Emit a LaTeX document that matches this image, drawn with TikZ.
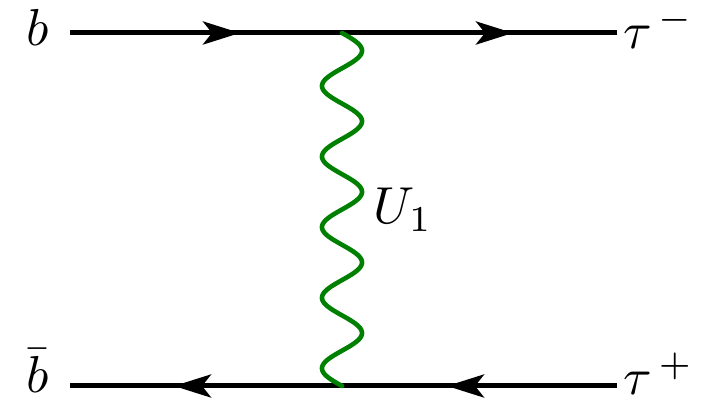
\documentclass[tikz,border=0pt]{standalone}
\usetikzlibrary{arrows.meta,decorations.markings}
\begin{document}
\begin{tikzpicture}[x=1pt,y=1pt,
  fermion/.style={line width=5pt,
    postaction={decorate},
    decoration={markings,
      mark=at position 170pt with {\arrow{Stealth[length=37pt,width=23pt,inset=9pt]}},
      mark=at position 443pt with {\arrow{Stealth[length=37pt,width=23pt,inset=9pt]}}}},
  boson/.style={line width=4.6pt,draw={green!50!black},line cap=round},
  lbl/.style={scale=5.2,inner sep=0pt}]
\useasboundingbox (0,0) rectangle (709,406);
\coordinate (t1) at (70,373);
\coordinate (t2) at (617,373);
\coordinate (b1) at (70,20);
\coordinate (b2) at (617,20);
\coordinate (vt) at (342,373);
\coordinate (vb) at (342,20);
\draw[fermion] (t1) -- (t2);
\draw[fermion] (b2) -- (b1);
\draw[boson] (vt) -- plot[domain=0:353,samples=300,smooth] ({342+20*sin(5.0992*\x)},{373-\x}) -- (vb);
\node[lbl] (lb) at (38,379) {$b$};
\node[lbl,anchor=west] (ltm) at (622,378) {$\tau^{\,-}$};
\node[lbl] (lbb) at (38,35) {$\bar b$};
\node[lbl,anchor=west] (ltp) at (622,32) {$\tau^{\,+}$};
\node[lbl] (lu) at (403,196) {$U_1$};
\end{tikzpicture}
\end{document}
